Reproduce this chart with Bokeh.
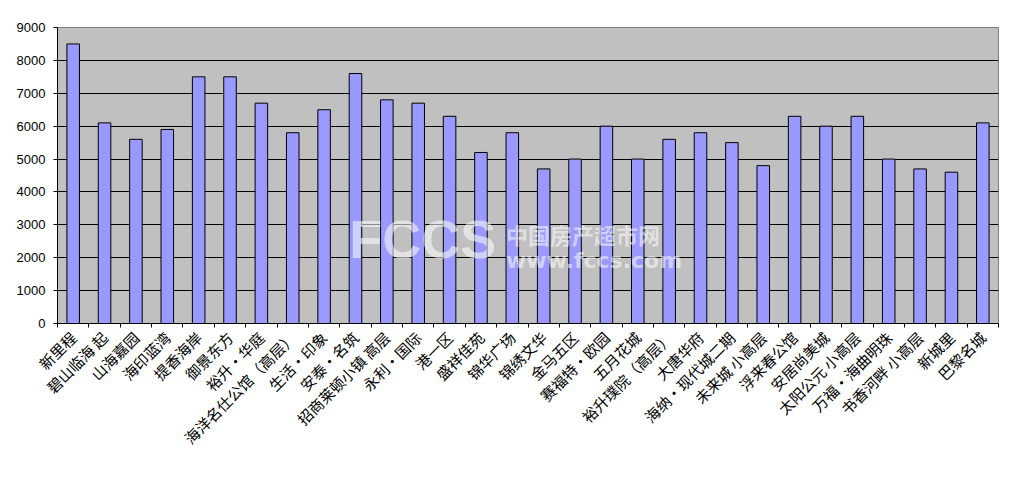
import math
from bokeh.plotting import figure
from bokeh.models import ColumnDataSource, FixedTicker, Range1d, Label, Span
from bokeh.embed import file_html
from bokeh.resources import INLINE

categories = ["新里程", "碧山临海 起", "山海嘉园", "海印蓝湾", "提香海岸", "御景东方",
              "裕升•华庭", "海洋名仕公馆（高层）", "生活•印象", "安泰•名筑",
              "招商莱顿小镇 高层", "永利•国际", "港一区", "盛祥佳苑", "锦华广场",
              "锦绣文华", "金马五区", "赛福特•欧园", "五月花城", "裕升璞院（高层）",
              "大唐华府", "海纳•现代城二期", "未来城 小高层", "浮来春公馆", "安居尚美城",
              "太阳公元 小高层", "万福•海曲明珠", "书香河畔 小高层", "新城里", "巴黎名城"]
prices = [8500, 6100, 5600, 5900, 7500, 7500, 6700, 5800, 6500, 7600,
          6800, 6700, 6300, 5200, 5800, 4700, 5000, 6000, 5000, 5600,
          5800, 5500, 4800, 6300, 6000, 6300, 5000, 4700, 4600, 6100]
y_ticks = [0, 1000, 2000, 3000, 4000, 5000, 6000, 7000, 8000, 9000]

n = len(categories)
xs = [i + 0.5 for i in range(n)]
src = ColumnDataSource(dict(x=xs, top=prices))

p = figure(width=1001, height=466, output_backend="svg", toolbar_location=None,
           x_range=Range1d(0, n), y_range=Range1d(0, 9000),
           min_border_left=57, min_border_top=27, min_border_right=3, min_border_bottom=143)
p.background_fill_color = "#C0C0C0"
p.border_fill_color = "white"
p.outline_line_color = "#808080"
p.outline_line_width = 1

p.vbar(x="x", top="top", bottom=0, width=0.4, source=src,
       fill_color="#9999FF", line_color="black", line_width=1)

# axes
p.yaxis.ticker = FixedTicker(ticks=y_ticks)
p.yaxis.axis_line_color = "black"
p.yaxis.major_tick_line_color = "black"
p.yaxis.major_tick_out = 4
p.yaxis.major_tick_in = 0
p.yaxis.minor_tick_line_color = None
p.yaxis.major_label_text_font = "Liberation Sans"
p.yaxis.major_label_text_font_size = "13px"
p.yaxis.major_label_text_color = "black"
p.yaxis.major_label_standoff = 8

p.xaxis.ticker = FixedTicker(ticks=xs, minor_ticks=list(range(n + 1)))
p.xaxis.major_label_overrides = {x: c for x, c in zip(xs, categories)}
p.xaxis.axis_line_color = "black"
p.xaxis.major_tick_line_color = None
p.xaxis.major_tick_out = 0
p.xaxis.major_tick_in = 0
p.xaxis.minor_tick_line_color = "black"
p.xaxis.minor_tick_out = 4
p.xaxis.minor_tick_in = 0
p.xaxis.major_label_orientation = math.pi / 4
p.xaxis.major_label_text_font = "Noto Sans CJK SC"
p.xaxis.major_label_text_font_size = "15px"
p.xaxis.major_label_text_color = "black"
p.xaxis.major_label_standoff = 7

p.xgrid.grid_line_color = None
p.ygrid.grid_line_color = "black"
p.ygrid.grid_line_width = 1
p.ygrid.ticker = FixedTicker(ticks=y_ticks)

# watermark
p.add_layout(Label(x=9.3, y=1650, text="FCCS", text_font="Liberation Sans",
                   text_font_style="bold", text_font_size="54px",
                   text_color="white", text_alpha=0.55))
p.add_layout(Label(x=14.3, y=2250, text="中国房产超市网", text_font="Noto Sans CJK SC",
                   text_font_style="bold", text_font_size="22px",
                   text_color="white", text_alpha=0.55))
p.add_layout(Label(x=14.3, y=1550, text="www.fccs.com", text_font="DejaVu Sans",
                   text_font_style="bold", text_font_size="22px",
                   text_color="white", text_alpha=0.55))

open("out.html", "w").write(file_html(p, INLINE))
